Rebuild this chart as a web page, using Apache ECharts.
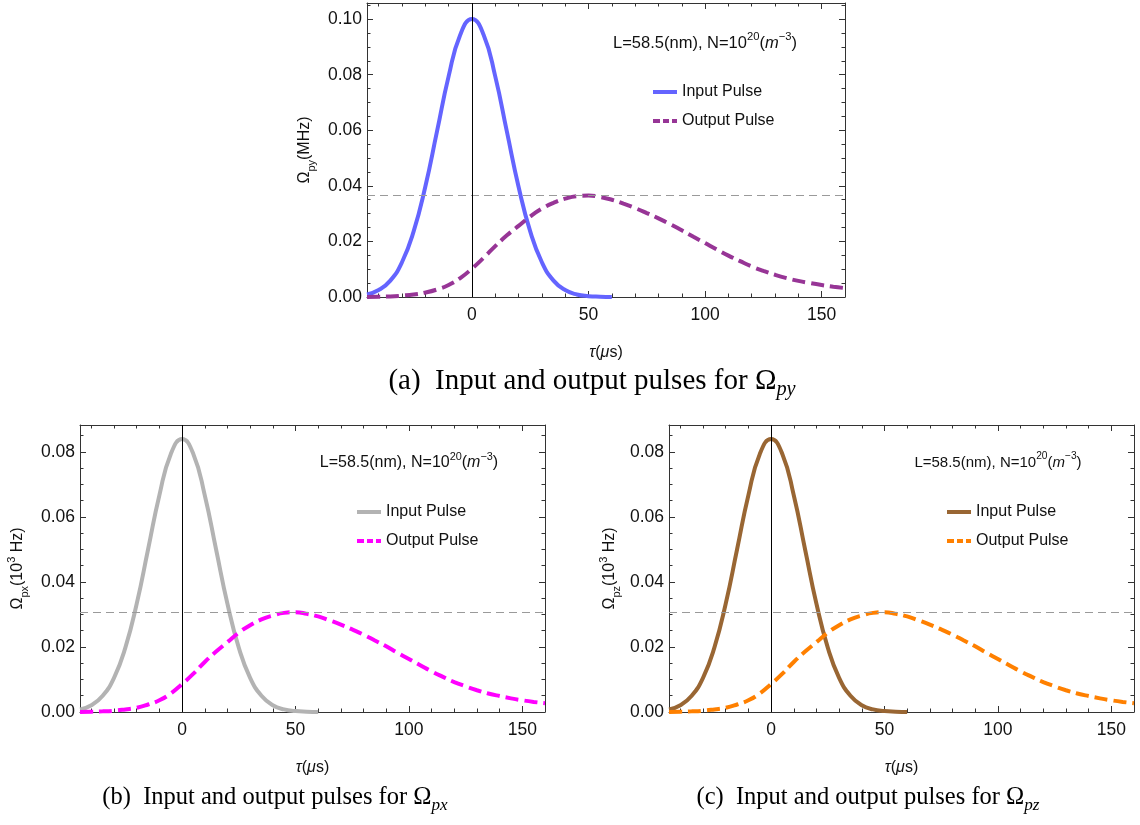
<!DOCTYPE html>
<html><head><meta charset="utf-8">
<script src="https://cdn.jsdelivr.net/npm/echarts@6/dist/echarts.min.js"></script>
<style>html,body{margin:0;padding:0;background:#fff}#c{width:1140px;height:825px}</style>
</head><body><div id="c"></div>
<script>
// ---- data ----
const tauOut = [-45,-40,-35,-30,-25,-20,-15,-10,-5,0,5,10,15,20,25,30,35,40,45,50,55,60,65,70,75,80,85,90,95,100,105,110,115,120,125,130,135,140,145,150,155,160];
const tauIn = [-45,-40,-35,-30,-25,-20,-15,-10,-5,0,5,10,15,20,25,30,35,40,45,50,55,60];

const inputPy = [0.0009,0.0025,0.0059,0.0125,0.0236,0.0397,0.0595,0.0794,0.0944,0.1000,0.0944,0.0794,0.0595,0.0397,0.0236,0.0125,0.0059,0.0025,0.0009,0.0003,0.0001,0.0000];
const outputPy = [0.0000,0.0001,0.0002,0.0005,0.0009,0.0016,0.0027,0.0043,0.0068,0.0102,0.0141,0.0183,0.0222,0.0256,0.0290,0.0318,0.0339,0.0354,0.0363,0.0365,0.0360,0.0350,0.0336,0.0320,0.0302,0.0283,0.0262,0.0240,0.0217,0.0194,0.0171,0.0149,0.0129,0.0110,0.0094,0.0080,0.0068,0.0058,0.0050,0.0043,0.0037,0.0032];

const inputPx = [0.0008,0.0021,0.0050,0.0105,0.0198,0.0333,0.0500,0.0667,0.0793,0.0840,0.0793,0.0667,0.0500,0.0333,0.0198,0.0105,0.0050,0.0021,0.0008,0.0003,0.0001,0.0000];
const outputPx = [0.0000,0.0001,0.0002,0.0004,0.0008,0.0013,0.0023,0.0036,0.0057,0.0086,0.0118,0.0154,0.0186,0.0215,0.0244,0.0267,0.0285,0.0297,0.0305,0.0307,0.0302,0.0294,0.0282,0.0269,0.0254,0.0238,0.0220,0.0202,0.0182,0.0163,0.0144,0.0125,0.0108,0.0092,0.0079,0.0067,0.0057,0.0049,0.0042,0.0036,0.0031,0.0027];

const inputPz = [0.0008,0.0021,0.0050,0.0105,0.0198,0.0333,0.0500,0.0667,0.0793,0.0840,0.0793,0.0667,0.0500,0.0333,0.0198,0.0105,0.0050,0.0021,0.0008,0.0003,0.0001,0.0000];
const outputPz = [0.0000,0.0001,0.0002,0.0004,0.0008,0.0013,0.0023,0.0036,0.0057,0.0086,0.0118,0.0154,0.0186,0.0215,0.0244,0.0267,0.0285,0.0297,0.0305,0.0307,0.0302,0.0294,0.0282,0.0269,0.0254,0.0238,0.0220,0.0202,0.0182,0.0163,0.0144,0.0125,0.0108,0.0092,0.0079,0.0067,0.0057,0.0049,0.0042,0.0036,0.0031,0.0027];

const peakPy = 0.0365;
const peakPx = 0.0307;
const peakPz = 0.0307;

const xMajorTicks = [0,50,100,150];
const xMinorTicks = [-40,-30,-20,-10,0,10,20,30,40,50,60,70,80,90,100,110,120,130,140,150,160];
const yMajorTicksA = [0,0.02,0.04,0.06,0.08,0.10];
const yMinorTicksA = [0,0.005,0.01,0.015,0.02,0.025,0.03,0.035,0.04,0.045,0.05,0.055,0.06,0.065,0.07,0.075,0.08,0.085,0.09,0.095,0.10,0.105];
const yMajorTicksB = [0,0.02,0.04,0.06,0.08];
const yMinorTicksB = [0,0.005,0.01,0.015,0.02,0.025,0.03,0.035,0.04,0.045,0.05,0.055,0.06,0.065,0.07,0.075,0.08,0.085];

// ---- layout / styles ----
const FRAME = '#333';
const TXT = '#111';
const SANS = '"Liberation Sans", Arial, sans-serif';
const SERIF = '"Liberation Serif", "DejaVu Serif", serif';
const ICON_SOLID = 'path://M0,0h24v4h-24z';
const ICON_DASH = 'path://M0,0h7v4h-7zM10,0h6v4h-6zM19,0h5v4h-5z';

const panels = [
  { key:'a', grid:{left:367, top:3, width:478, height:294}, ymax:0.1058,
    yMajor:yMajorTicksA, yMinor:yMinorTicksA,
    inp:inputPy, out:outputPy, peak:peakPy,
    cIn:'#6464ff', cOut:'#973596',
    yName:'Ω{sub|py}(MHz)', yGap:50, xGap:48,
    legend:{left:653, top:84}, note:{x:705, y:43, fs:16.5} },
  { key:'b', grid:{left:80, top:425, width:465, height:287}, ymax:0.0883,
    yMajor:yMajorTicksB, yMinor:yMinorTicksB,
    inp:inputPx, out:outputPx, peak:peakPx,
    cIn:'#b3b3b3', cOut:'#ff00ff',
    yName:'Ω{sub|px}(10{sup|3} Hz)', yGap:50, xGap:48,
    legend:{left:357, top:504}, note:{x:409, y:463, fs:16} },
  { key:'c', grid:{left:669, top:425, width:465, height:287}, ymax:0.0883,
    yMajor:yMajorTicksB, yMinor:yMinorTicksB,
    inp:inputPz, out:outputPz, peak:peakPz,
    cIn:'#996633', cOut:'#ff8000',
    yName:'Ω{sub|pz}(10{sup|3} Hz)', yGap:47, xGap:48,
    legend:{left:947, top:504}, note:{x:998, y:463, fs:15} }
];

const grids = [], xAxes = [], yAxes = [], series = [], legends = [], graphics = [];

panels.forEach((p, k) => {
  grids.push(Object.assign({containLabel:false}, p.grid));
  const baseX = {type:'value', gridIndex:k, min:-45, max:160, splitLine:{show:false}};
  const baseY = {type:'value', gridIndex:k, min:0, max:p.ymax, splitLine:{show:false}};
  const line = {show:true, onZero:false, lineStyle:{color:FRAME, width:1}};
  const noLine = {show:false, onZero:false};
  xAxes.push(Object.assign({}, baseX, {position:'bottom', axisLine:line,
    axisTick:{show:true, inside:true, length:6, customValues:xMajorTicks, lineStyle:{color:FRAME}},
    axisLabel:{show:true, customValues:xMajorTicks, margin:9, color:TXT, fontSize:17.5, fontFamily:SANS},
    name:'{it|τ}({it|μ}s)', nameLocation:'middle', nameGap:p.xGap,
    nameTextStyle:{color:TXT, fontSize:16, fontFamily:SANS, rich:{it:{fontStyle:'italic', fontSize:16, fontFamily:SANS, color:TXT}}}}));
  xAxes.push(Object.assign({}, baseX, {position:'bottom', axisLine:noLine,
    axisTick:{show:true, inside:true, length:3.5, customValues:xMinorTicks, lineStyle:{color:FRAME}},
    axisLabel:{show:false}}));
  xAxes.push(Object.assign({}, baseX, {position:'top', axisLine:line,
    axisTick:{show:true, inside:true, length:6, customValues:xMajorTicks, lineStyle:{color:FRAME}},
    axisLabel:{show:false}}));
  xAxes.push(Object.assign({}, baseX, {position:'top', axisLine:noLine,
    axisTick:{show:true, inside:true, length:3.5, customValues:xMinorTicks, lineStyle:{color:FRAME}},
    axisLabel:{show:false}}));
  yAxes.push(Object.assign({}, baseY, {position:'left', axisLine:line,
    axisTick:{show:true, inside:true, length:6, customValues:p.yMajor, lineStyle:{color:FRAME}},
    axisLabel:{show:true, customValues:p.yMajor, margin:5, color:TXT, fontSize:17.5, fontFamily:SANS,
      formatter:v => Number(v).toFixed(2)},
    name:p.yName, nameLocation:'middle', nameRotate:90, nameGap:p.yGap,
    nameTextStyle:{color:TXT, fontSize:16, lineHeight:24, fontFamily:SANS, rich:{
      sub:{fontSize:11, fontFamily:SANS, color:TXT, verticalAlign:'bottom', lineHeight:16},
      sup:{fontSize:11, fontFamily:SANS, color:TXT, verticalAlign:'top', lineHeight:11}}}}));
  yAxes.push(Object.assign({}, baseY, {position:'left', axisLine:noLine,
    axisTick:{show:true, inside:true, length:3.5, customValues:p.yMinor, lineStyle:{color:FRAME}},
    axisLabel:{show:false}}));
  yAxes.push(Object.assign({}, baseY, {position:'right', axisLine:line,
    axisTick:{show:true, inside:true, length:6, customValues:p.yMajor, lineStyle:{color:FRAME}},
    axisLabel:{show:false}}));
  yAxes.push(Object.assign({}, baseY, {position:'right', axisLine:noLine,
    axisTick:{show:true, inside:true, length:3.5, customValues:p.yMinor, lineStyle:{color:FRAME}},
    axisLabel:{show:false}}));

  const xi = 4*k, yi = 4*k;
  const inName = 'Input Pulse (' + p.key + ')';
  const outName = 'Output Pulse (' + p.key + ')';
  series.push({
    type:'line', name:outName, xAxisIndex:xi, yAxisIndex:yi,
    data: tauOut.map((t,i) => [t, p.out[i]]),
    symbol:'none', smooth:0.5, clip:true, z:3,
    lineStyle:{color:p.cOut, width:4, type:[13,6], cap:'butt'},
    itemStyle:{color:p.cOut},
    markLine:{silent:true, symbol:'none', precision:6, label:{show:false}, animation:false,
      data:[{yAxis:p.peak, lineStyle:{color:'#9a9a9a', width:1, type:[8,5]}}]}
  });
  series.push({
    type:'line', name:inName, xAxisIndex:xi, yAxisIndex:yi,
    data: tauIn.map((t,i) => [t, p.inp[i]]),
    symbol:'none', smooth:0.5, clip:true, z:2,
    lineStyle:{color:p.cIn, width:4},
    itemStyle:{color:p.cIn},
    markLine:{silent:true, symbol:'none', precision:6, label:{show:false}, animation:false,
      data:[{xAxis:0, lineStyle:{color:'#000', width:1, type:'solid'}}]}
  });
  legends.push({
    orient:'vertical', left:p.legend.left, top:p.legend.top, padding:0,
    itemWidth:24, itemHeight:16, itemGap:13, selectedMode:false,
    formatter: n => n.replace(/ \(.\)$/, ''),
    textStyle:{color:TXT, fontSize:16, fontFamily:SANS, lineHeight:16},
    data:[
      {name:inName, icon:ICON_SOLID, itemStyle:{color:p.cIn}},
      {name:outName, icon:ICON_DASH, itemStyle:{color:p.cOut}}
    ]
  });
  graphics.push({
    type:'text', x:p.note.x, y:p.note.y, silent:true,
    style:{
      text:'L=58.5(nm), N=10{sup|20}({it|m}{sup|−3})',
      x:0, y:0, align:'center', verticalAlign:'middle', lineHeight:24,
      fill:TXT, fontSize:p.note.fs, fontFamily:SANS,
      rich:{
        sup:{fontSize:p.note.fs*0.68, fontFamily:SANS, fill:TXT, verticalAlign:'top', lineHeight:11},
        it:{fontStyle:'italic', fontSize:p.note.fs, fontFamily:SANS, fill:TXT}
      }
    }
  });
});

// captions
const captions = [
  {x:592, y:381, fs:29, text:'(a)  Input and output pulses for Ω{sub|py}'},
  {x:275, y:798, fs:24.5, text:'(b)  Input and output pulses for Ω{sub|px}'},
  {x:868, y:798, fs:24.5, text:'(c)  Input and output pulses for Ω{sub|pz}'}
];
captions.forEach(c => {
  graphics.push({
    type:'text', x:c.x, y:c.y, silent:true,
    style:{
      text:c.text, x:0, y:0, align:'center', verticalAlign:'middle', lineHeight:c.fs*1.3,
      fill:'#000', fontSize:c.fs, fontFamily:SERIF,
      rich:{ sub:{fontStyle:'italic', fontSize:c.fs*0.7, fontFamily:SERIF, fill:'#000', verticalAlign:'bottom', lineHeight:c.fs*0.95} }
    }
  });
});

const chart = echarts.init(document.getElementById('c'), null, {renderer:'canvas'});
chart.setOption({
  animation:false,
  backgroundColor:'#fff',
  grid:grids, xAxis:xAxes, yAxis:yAxes, series:series, legend:legends,
  graphic:{elements:graphics}
});
</script></body></html>
